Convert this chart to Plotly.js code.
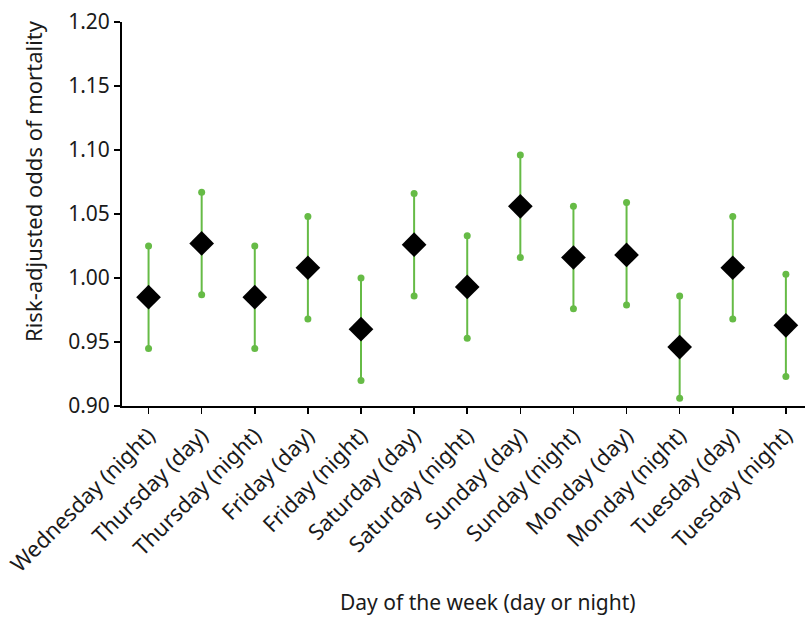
<!DOCTYPE html>
<html>
<head>
<meta charset="utf-8">
<script src="https://cdn.plot.ly/plotly-3.0.1.min.js"></script>
<style>html,body{margin:0;padding:0;background:#fff;}#chart{width:805px;height:617px;}</style>
</head>
<body>
<div id="chart"></div>
<script>
const categories = ["Wednesday (night)", "Thursday (day)", "Thursday (night)", "Friday (day)", "Friday (night)", "Saturday (day)", "Saturday (night)", "Sunday (day)", "Sunday (night)", "Monday (day)", "Monday (night)", "Tuesday (day)", "Tuesday (night)"];
const oddsRatio = [0.985, 1.027, 0.985, 1.008, 0.960, 1.026, 0.993, 1.056, 1.016, 1.018, 0.946, 1.008, 0.963];
const upperCI = [1.025, 1.067, 1.025, 1.048, 1.000, 1.066, 1.033, 1.096, 1.056, 1.059, 0.986, 1.048, 1.003];
const lowerCI = [0.945, 0.987, 0.945, 0.968, 0.920, 0.986, 0.953, 1.016, 0.976, 0.979, 0.906, 0.968, 0.923];
const yTickVals = [0.90, 0.95, 1.00, 1.05, 1.10, 1.15, 1.20];
const yTickText = ["0.90", "0.95", "1.00", "1.05", "1.10", "1.15", "1.20"];

const green = "#66bb46";
const font = "Noto Sans, Open Sans, sans-serif";
const xIdx = categories.map((c, i) => i);

const traces = [
  {
    type: "scatter", mode: "markers", x: xIdx, y: oddsRatio,
    marker: {size: 0.1, color: "rgba(0,0,0,0)"},
    error_y: {
      type: "data", symmetric: false,
      array: upperCI.map((u, i) => u - oddsRatio[i]),
      arrayminus: lowerCI.map((l, i) => oddsRatio[i] - l),
      color: green, thickness: 2, width: 0
    },
    hoverinfo: "skip", showlegend: false
  },
  {
    type: "scatter", mode: "markers", x: xIdx.concat(xIdx), y: upperCI.concat(lowerCI),
    marker: {symbol: "circle", size: 7, color: green},
    showlegend: false, cliponaxis: false
  },
  {
    type: "scatter", mode: "markers", x: xIdx, y: oddsRatio,
    marker: {symbol: "diamond", size: 19, color: "#000000"},
    showlegend: false
  }
];

const layout = {
  width: 805, height: 617,
  margin: {l: 122, r: 0, t: 22, b: 211},
  paper_bgcolor: "#ffffff", plot_bgcolor: "#ffffff",
  font: {family: font, size: 20, color: "#1a1a1a"},
  xaxis: {
    range: [-0.5, 12.36],
    tickmode: "array", tickvals: xIdx, ticktext: categories,
    tickangle: -45,
    showgrid: false, zeroline: false,
    showline: true, linecolor: "#000", linewidth: 2,
    ticks: "outside", ticklen: 6, tickwidth: 1.5, tickcolor: "#000",
    tickson: "boundaries",
    tickfont: {family: font, size: 22, color: "#1a1a1a"}
  },
  yaxis: {
    range: [0.9, 1.2],
    tickmode: "array", tickvals: yTickVals, ticktext: yTickText,
    showgrid: false, zeroline: false,
    showline: true, linecolor: "#000", linewidth: 2,
    ticks: "outside", ticklen: 6, tickwidth: 1.5, tickcolor: "#000",
    tickfont: {family: font, size: 21, color: "#1a1a1a"}
  },
  annotations: [
    {text: "Day of the week (day or night)", xref: "paper", yref: "paper",
     x: (488 - 122) / 683, y: -(602 - 406) / 384, xanchor: "center", yanchor: "middle",
     showarrow: false, font: {family: font, size: 21, color: "#1a1a1a"}},
    {text: "Risk-adjusted odds of mortality", xref: "paper", yref: "paper",
     x: -(122 - 33) / 683, y: (406 - 181) / 384, xanchor: "center", yanchor: "middle",
     textangle: -90, showarrow: false, font: {family: font, size: 22, color: "#1a1a1a"}}
  ]
};

Plotly.newPlot("chart", traces, layout, {displayModeBar: false, staticPlot: true});
</script>
</body>
</html>
